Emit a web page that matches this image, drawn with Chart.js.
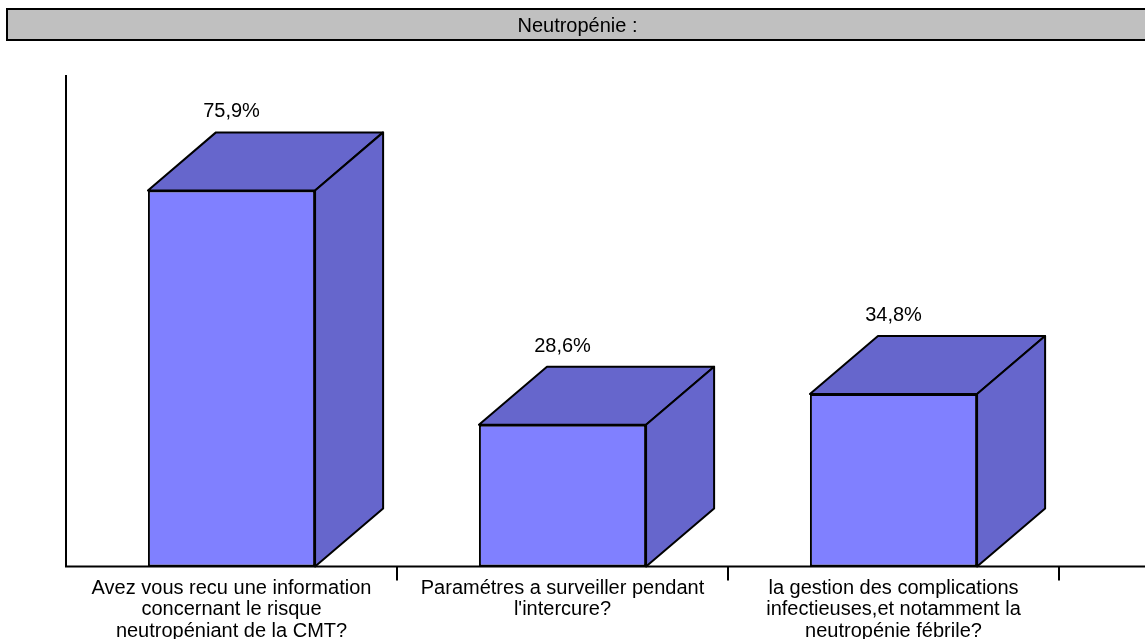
<!DOCTYPE html>
<html>
<head>
<meta charset="utf-8">
<script src="https://cdn.jsdelivr.net/npm/chart.js@4"></script>
<style>
  html, body { margin: 0; padding: 0; background: #fff; }
  #wrap { width: 1145px; height: 643px; position: relative; }
</style>
</head>
<body>
<div id="wrap"><canvas id="chart"></canvas></div>
<script>
const title = "Neutropénie :";
const categories = [
  ["Avez vous recu une information", "concernant le risque", "neutropéniant de la CMT?"],
  ["Paramétres a surveiller pendant", "l'intercure?"],
  ["la gestion des complications", "infectieuses,et notamment la", "neutropénie fébrile?"],
];
const values = [75.9, 28.6, 34.8];
const valueLabels = ["75,9%", "28,6%", "34,8%"];

const FONT = "'Liberation Sans', Arial, sans-serif";
const FRONT = "#8080FF";
const SHADE = "#6666CC";

// grey title band, title text centred on the band
const titleBand = {
  id: "titleBand",
  beforeDraw(chart) {
    const ctx = chart.ctx;
    ctx.save();
    ctx.fillStyle = "#fff";
    ctx.fillRect(0, 0, chart.width, chart.height);
    ctx.fillStyle = "#C0C0C0";
    ctx.strokeStyle = "#000";
    ctx.lineWidth = 2;
    ctx.fillRect(7, 9, chart.width, 31);
    ctx.strokeRect(7, 9, chart.width, 31);
    ctx.fillStyle = "#000";
    ctx.font = "20px " + FONT;
    ctx.textAlign = "center";
    ctx.textBaseline = "alphabetic";
    ctx.fillText(title, chart.width / 2 + 5, 32);
    ctx.restore();
  },
};

// axis lines, 3D faces and value labels
const bars3d = {
  id: "bars3d",
  beforeDatasetsDraw(chart) {
    const { ctx, chartArea } = chart;
    ctx.save();
    ctx.strokeStyle = "#000";
    ctx.lineWidth = 2;
    ctx.beginPath();
    ctx.moveTo(chartArea.left, chartArea.top + 4);
    ctx.lineTo(chartArea.left, chartArea.bottom);
    ctx.lineTo(chart.width, chartArea.bottom);
    ctx.stroke();
    ctx.restore();
  },
  afterDatasetsDraw(chart) {
    const ctx = chart.ctx;
    const meta = chart.getDatasetMeta(0);
    ctx.save();
    ctx.strokeStyle = "#000";
    ctx.lineWidth = 2;
    ctx.lineJoin = "round";
    meta.data.forEach((bar, i) => {
      const l = bar.x - bar.width / 2;
      const r = bar.x + bar.width / 2;
      const top = bar.y;
      const base = bar.base;
      const dx = bar.width * 0.407;
      const dy = dx * 0.853;

      ctx.fillStyle = SHADE;
      ctx.beginPath();
      ctx.moveTo(l, top);
      ctx.lineTo(l + dx, top - dy);
      ctx.lineTo(r + dx, top - dy);
      ctx.lineTo(r, top);
      ctx.closePath();
      ctx.fill();
      ctx.stroke();

      ctx.beginPath();
      ctx.moveTo(r, base);
      ctx.lineTo(r + dx, base - dy);
      ctx.lineTo(r + dx, top - dy);
      ctx.lineTo(r, top);
      ctx.closePath();
      ctx.fill();
      ctx.stroke();

      ctx.fillStyle = "#000";
      ctx.font = "20px " + FONT;
      ctx.textAlign = "center";
      ctx.textBaseline = "alphabetic";
      ctx.fillText(valueLabels[i], bar.x, top - dy - 15);
    });
    ctx.restore();
  },
};

new Chart(document.getElementById("chart"), {
  type: "bar",
  data: {
    labels: categories,
    datasets: [{
      data: values,
      backgroundColor: FRONT,
      borderColor: "#000",
      borderWidth: 2,
      borderSkipped: false,
      barPercentage: 0.505,
      categoryPercentage: 1,
    }],
  },
  options: {
    responsive: true,
    maintainAspectRatio: false,
    animation: false,
    layout: { padding: { left: 66, right: 86, top: 0, bottom: 4 } },
    plugins: {
      legend: { display: false },
      tooltip: { enabled: false },
      title: {
        // text is drawn by titleBand; this only reserves the space
        display: true,
        text: title,
        color: "rgba(0,0,0,0)",
        font: { family: FONT, size: 20, weight: "normal", lineHeight: 1.2 },
        padding: { top: 13, bottom: 34 },
      },
    },
    scales: {
      x: {
        offset: true,
        border: { display: false },
        grid: {
          offset: true,
          drawOnChartArea: false,
          tickLength: 14,
          lineWidth: 2,
          color: (c) => (c.index === 0 ? "rgba(0,0,0,0)" : "#000"),
        },
        ticks: {
          color: "#000",
          autoSkip: false,
          maxRotation: 0,
          padding: -3,
          font: { family: FONT, size: 20, lineHeight: 1.075 },
        },
      },
      y: {
        display: false,
        min: 0,
        max: 100,
      },
    },
  },
  plugins: [titleBand, bars3d],
});
</script>
</body>
</html>
